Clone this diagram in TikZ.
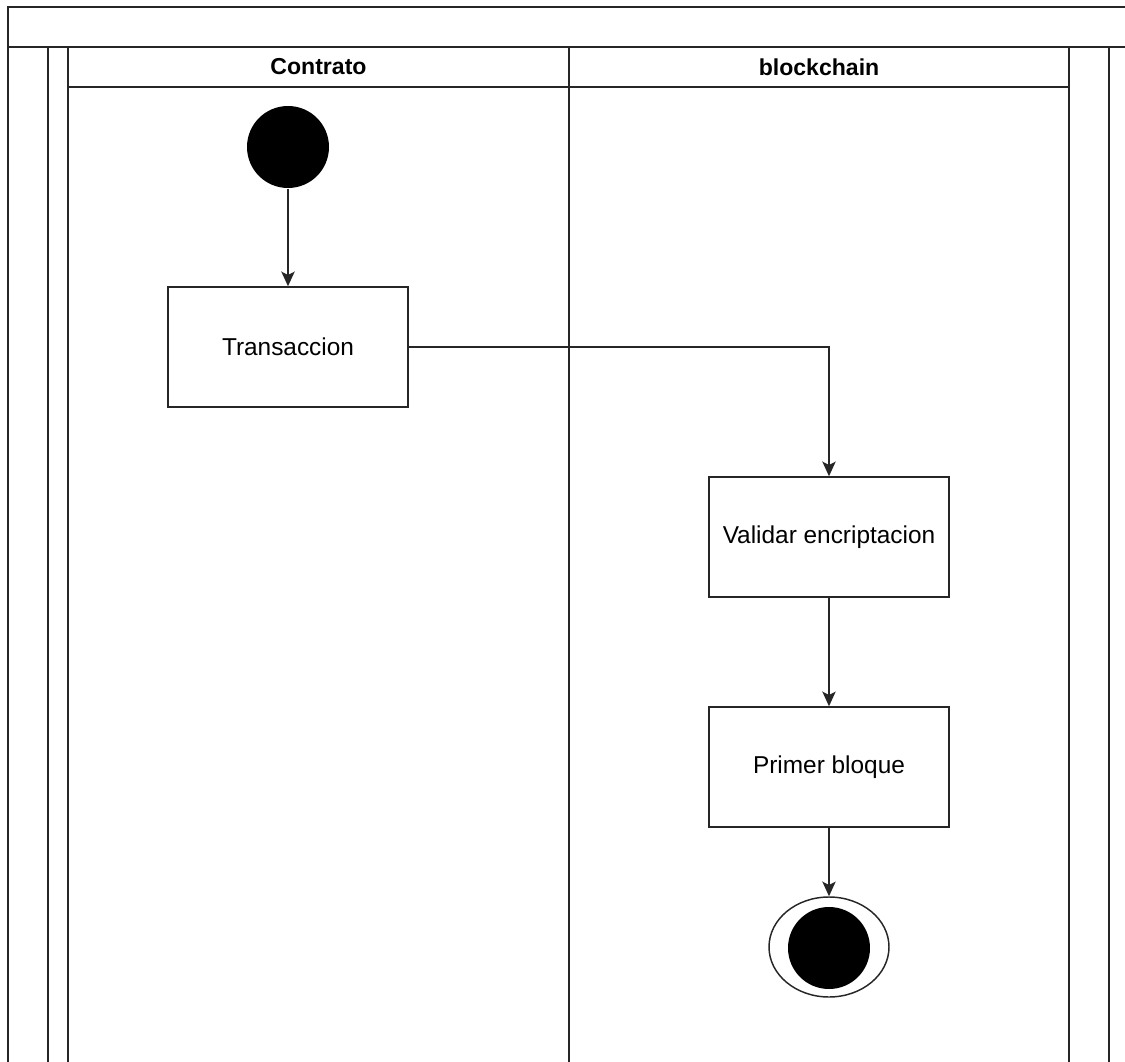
\documentclass[tikz,border=0pt]{standalone}
\usepackage{tikz, amsmath, amssymb}
\usepackage{fontspec}
\setmainfont{Liberation Sans}
\usetikzlibrary{arrows.meta, shapes.geometric}

\begin{document}
\begin{tikzpicture}[x=0.75pt, y=-0.75pt, line width=1.1pt, draw=black!85,
		box/.style={draw, rectangle, minimum width=180pt, minimum height=90pt, font=\fontsize{18.3}{20}\selectfont},
		flow/.style={-{Stealth[length=11pt, width=10pt, inset=2.5pt]}, line width=1.1pt}]
					\useasboundingbox (0,0) rectangle (1125,1062);
					% Draw the pool and the lanes
					\draw (8,1062) -- (8,7) -- (1125,7);
					\draw (8,47) -- (1125,47);
					\draw (48,47) -- (48,1062);
					\draw (68,47) -- (68,1062);
					\draw (569,47) -- (569,1062);
					\draw (1069,47) -- (1069,1062);
					\draw (1109,47) -- (1109,1062);
					\draw (68,87) -- (1069,87);
					\node (H1) at (318.5,67) {\fontsize{17.3}{19}\selectfont\bfseries Contrato};
					\node (H2) at (819,67)   {\fontsize{17.3}{19}\selectfont\bfseries blockchain};
					% Draw the activities
					\node (S) at (288,147) [circle, fill=black, minimum size=61.5pt, inner sep=0pt] {};
					\node (T) at (288,347) [box] {Transaccion};
					\node (V) at (829,537) [box] {Validar encriptacion};
					\node (P) at (829,767) [box] {Primer bloque};
					\node (F) at (829,947) [ellipse, draw, minimum width=90pt, minimum height=75pt, inner sep=0pt] {};
					\node (G) at (829,948) [circle, fill=black, minimum size=61.5pt, inner sep=0pt] {};
					% Draw an arrow between the nodes
					\draw[flow] (S) -- (T);
					\draw[flow] (T.east) -| (V.north);
					\draw[flow] (V) -- (P);
					\draw[flow] (P) -- (F);
				\end{tikzpicture}
\end{document}
